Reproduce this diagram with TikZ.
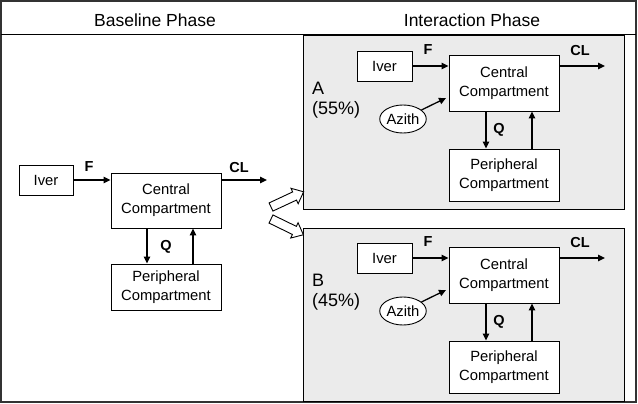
\documentclass[tikz,border=0pt]{standalone}
\usepackage{fontspec}
\setmainfont{Liberation Sans}
\usetikzlibrary{shapes.geometric,arrows.meta,calc}
\begin{document}
\begin{tikzpicture}[x=1pt,y=-1pt,
  box/.style={draw, fill=white, line width=0.9pt, inner sep=0pt, font=\fontsize{14.8}{19}\selectfont, align=center},
  arr/.style={line width=1.3pt, -{Triangle[length=7pt,width=6.5pt]}},
  lbl/.style={font=\fontsize{14.5}{17}\selectfont\bfseries, inner sep=0pt},
  panel/.style={draw, line width=1pt, fill=black!8},
  hdr/.style={font=\fontsize{17.5}{20}\selectfont, inner sep=0pt},
  blockarrow/.style={draw, fill=white, line width=0.9pt, line join=miter},
  azith/.style={draw, ellipse, fill=white, line width=0.9pt, minimum width=42pt, minimum height=28pt, inner sep=0pt, font=\fontsize{14.8}{17}\selectfont}
]
\useasboundingbox (0,0) rectangle (638,404);
% outer frame and header
\draw[line width=1.2pt, black!80] (1,1) rectangle (636,402);
\draw[line width=1pt] (1,35) -- (636,35);
\node[hdr] (h1) at (155,20) {Baseline Phase};
\node[hdr] (h2) at (472,20) {Interaction Phase};

% baseline model
\node[box, minimum width=54pt, minimum height=30pt] (iv0) at (46,180) {Iver};
\node[box, minimum width=110pt, minimum height=55pt] (c0) at (166,200.5) {Central\\Compartment};
\node[box, minimum width=110pt, minimum height=46pt] (p0) at (166,287) {Peripheral\\Compartment};
\coordinate (cl0) at (267,180);
\draw[arr] (iv0.east) -- (iv0.east -| c0.west);
\draw[arr] (c0.east |- cl0) -- (cl0);
\draw[arr] ([xshift=-19pt]c0.south) -- ([xshift=-19pt]p0.north);
\draw[arr] ([xshift=27pt]p0.north) -- ([xshift=27pt]c0.south);
\node[lbl] (f0) at (89,167) {F};
\node[lbl] (L0) at (239,168) {CL};
\node[lbl] (q0) at (166,247) {Q};

% interaction panels
\foreach \p/\dy/\lab/\pct in {a/0/A/55,b/192/B/45} {
\begin{scope}[yshift=-\dy pt]
  \draw[panel] (303,36) rectangle (624,209);
  \node[box, minimum width=55pt, minimum height=30pt] (\p iv) at (384.5,66) {Iver};
  \node[box, minimum width=110pt, minimum height=56pt] (\p c) at (504,83) {Central\\Compartment};
  \node[box, minimum width=110pt, minimum height=52pt] (\p p) at (504,175) {Peripheral\\Compartment};
  \node[azith] (\p az) at (403,119) {Azith};
  \coordinate (\p aze) at (446,98);
  \coordinate (\p cl) at (605,66);
  \draw[arr] (\p iv.east) -- (\p iv.east -| \p c.west);
  \draw[arr] (\p c.east |- \p cl) -- (\p cl);
  \draw[arr] (\p az) -- (\p aze);
  \draw[arr] ([xshift=-18pt]\p c.south) -- ([xshift=-18pt]\p p.north);
  \draw[arr] ([xshift=28pt]\p p.north) -- ([xshift=28pt]\p c.south);
  \node[lbl] (\p f) at (428,50) {F};
  \node[lbl] (\p L) at (580,51) {CL};
  \node[lbl] (\p q) at (499,130) {Q};
  \node[font=\fontsize{18}{20}\selectfont, anchor=west, align=left, inner sep=0pt] (\p lab) at (312,100) {\lab\\(\pct\%)};
\end{scope}
}

% block arrows
\begin{scope}[shift={(271,207)}, rotate=25]
  \draw[blockarrow] (0,-4.5) -- (26,-4.5) -- (26,-8.5) -- (36,0) -- (26,8.5) -- (26,4.5) -- (0,4.5) -- cycle;
\end{scope}
\begin{scope}[shift={(271,219)}, rotate=-26]
  \draw[blockarrow] (0,-4.5) -- (26,-4.5) -- (26,-8.5) -- (36,0) -- (26,8.5) -- (26,4.5) -- (0,4.5) -- cycle;
\end{scope}
\end{tikzpicture}
\end{document}
